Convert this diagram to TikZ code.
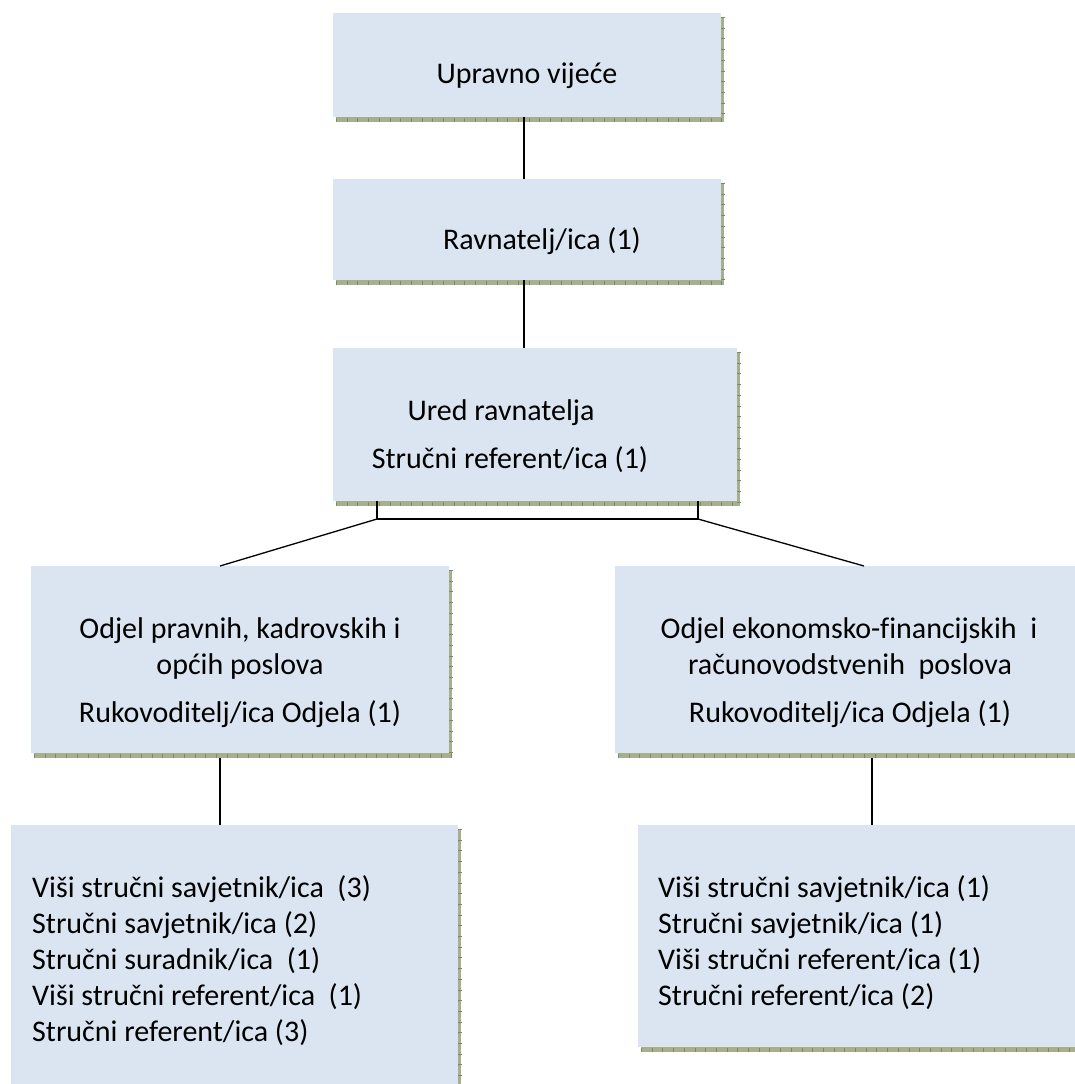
\documentclass[tikz,border=0pt]{standalone}
\usepackage{fontspec}
\setmainfont[Ligatures=NoCommon]{Carlito}
\definecolor{boxfill}{HTML}{DBE5F1}
\definecolor{shadowcol}{HTML}{A7B08C}
\definecolor{tickcol}{HTML}{7D8964}
\tikzset{
  orgbox/.style={rectangle, fill=boxfill, draw=none, inner sep=0pt, anchor=north west},
  txt/.style={inner sep=0pt, anchor=base, font=\fontsize{30}{36}\selectfont},
  txtl/.style={inner sep=0pt, anchor=base west, font=\fontsize{30}{36}\selectfont},
  conn/.style={draw=black, line width=1.3pt},
  shadowstrip/.style={fill=shadowcol},
  ticks/.style={draw=tickcol, line width=4pt, dash pattern=on 0.7pt off 10pt}
}
% shadow: (left,top,right,bottom)
\newcommand{\boxshadow}[4]{%
  \fill[shadowstrip] (#1+3,#4) rectangle (#3+3,#4+5);
  \fill[shadowstrip] (#3,#2+4) rectangle (#3+3,#4+5);
  \draw[ticks] (#1+3,#4+2.5) -- (#3+3,#4+2.5);
  \draw[ticks] (#3+1.5,#2+4) -- (#3+1.5,#4+5);
}
\begin{document}
\begin{tikzpicture}[x=1pt,y=-1pt]
\clip (0,0) rectangle (1075,1084);
\fill[white] (0,0) rectangle (1075,1084);

% shadows
\boxshadow{333}{13}{721}{117}
\boxshadow{333}{179}{721}{280}
\boxshadow{333}{348}{737}{501}
\boxshadow{31}{566}{449}{753}
\boxshadow{615}{566}{1075}{753}
\boxshadow{11}{825}{458}{1095}
\boxshadow{638}{825}{1080}{1047}

% boxes
\node[orgbox, minimum width=388pt, minimum height=104pt] (b1) at (333,13) {};
\node[orgbox, minimum width=388pt, minimum height=101pt] (b2) at (333,179) {};
\node[orgbox, minimum width=404pt, minimum height=153pt] (b3) at (333,348) {};
\node[orgbox, minimum width=418pt, minimum height=187pt] (b4) at (31,566) {};
\node[orgbox, minimum width=470pt, minimum height=187pt] (b5) at (615,566) {};
\node[orgbox, minimum width=447pt, minimum height=270pt] (b6) at (11,825) {};
\node[orgbox, minimum width=442pt, minimum height=222pt] (b7) at (638,825) {};

% connectors
\coordinate (bl) at (377,519);
\coordinate (br) at (698,519);
\draw[conn] (b1.south -| 524,0) -- (b2.north -| 524,0);
\draw[conn] (b2.south -| 524,0) -- (b3.north -| 524,0);
\draw[conn] (b3.south -| bl) -- (bl) -- (br) -- (b3.south -| br);
\draw[conn] (bl) -- (b4.north -| 220,0);
\draw[conn] (br) -- (b5.north -| 864,0);
\draw[conn] ([yshift=-5pt]b4.south -| 220,0) -- (b6.north -| 220,0);
\draw[conn] ([yshift=-5pt]b5.south -| 872,0) -- (b7.north -| 872,0);

% texts
\node[txt] (t1) at (527,83) {Upravno vijeće};
\node[txt] (t2) at (542,249) {Ravnatelj/ica (1)};
\node[txt] (t3a) at (501,420) {Ured ravnatelja};
\node[txt] (t3b) at (510,468) {Stručni referent/ica (1)};

\node[txt] (t4a) at (240,638) {Odjel pravnih, kadrovskih i};
\node[txt] (t4b) at (240,674) {općih poslova};
\node[txt] (t4c) at (240,722) {Rukovoditelj/ica Odjela (1)};

\node[txt] (t5a) at (849,638) {Odjel ekonomsko-financijskih\ \ i};
\node[txt] (t5b) at (850,674) {računovodstvenih\ \ poslova};
\node[txt] (t5c) at (850,722) {Rukovoditelj/ica Odjela (1)};

\node[txtl] (t6a) at (32,897) {Viši stručni savjetnik/ica\ \ (3)};
\node[txtl] (t6b) at (32,933) {Stručni savjetnik/ica (2)};
\node[txtl] (t6c) at (32,969) {Stručni suradnik/ica\ \ (1)};
\node[txtl] (t6d) at (32,1005) {Viši stručni referent/ica\ \ (1)};
\node[txtl] (t6e) at (32,1041) {Stručni referent/ica (3)};

\node[txtl] (t7a) at (658,897) {Viši stručni savjetnik/ica (1)};
\node[txtl] (t7b) at (658,933) {Stručni savjetnik/ica (1)};
\node[txtl] (t7c) at (658,969) {Viši stručni referent/ica (1)};
\node[txtl] (t7d) at (658,1005) {Stručni referent/ica (2)};
\end{tikzpicture}
\end{document}
